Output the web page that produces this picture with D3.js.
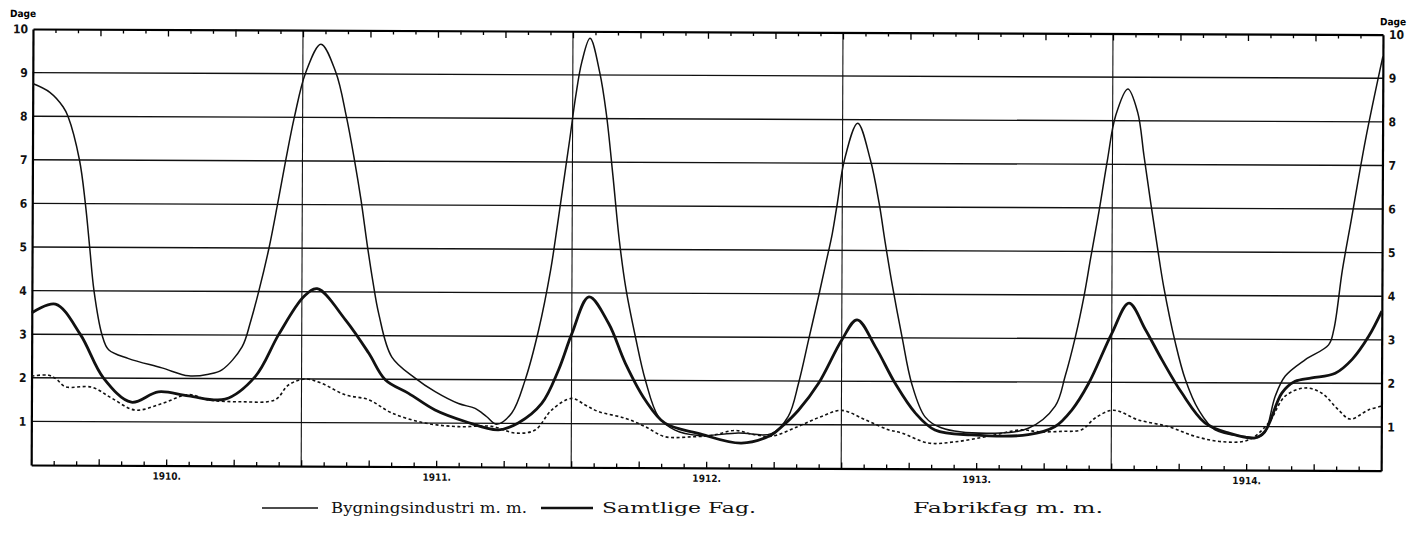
<!DOCTYPE html>
<html>
<head>
<meta charset="utf-8">
<script src="https://cdn.jsdelivr.net/npm/d3@7"></script>
<style>
  body { margin: 0; background: #fff; }
  .axisText text { font-family: "DejaVu Sans Condensed", "DejaVu Sans", sans-serif; font-weight: bold; font-size: 12px; fill: #111; }
  .yearText text { font-family: "DejaVu Sans Condensed", "DejaVu Sans", sans-serif; font-weight: bold; font-size: 10px; fill: #111; }
  .legendText { font-family: "DejaVu Serif", serif; font-size: 15px; fill: #111; }
</style>
</head>
<body>
<div id="chart"></div>
<script>
var svgWidth = 1419;
var svgHeight = 537;

var margin = {
  top: 29,
  right: 36,
  bottom: 72,
  left: 33
};

var width = svgWidth - margin.left - margin.right;
var height = svgHeight - margin.top - margin.bottom;

// Days out of work, month counted from Jan 1910 (0) to end of 1914 (60)
var bygning = [[0, 8.75], [0.76, 8.55], [1.35, 8.22], [1.57, 8.0], [2.09, 7.0], [2.36, 6.0], [2.56, 5.0], [2.76, 4.0],
  [3.12, 3.0], [3.42, 2.65], [4.31, 2.45], [5.79, 2.24], [6.98, 2.06], [7.87, 2.1], [8.46, 2.2], [9.35, 2.73],
  [9.73, 3.32], [10.09, 4.02], [10.53, 5.0], [10.9, 6.0], [11.27, 7.05], [11.64, 8.02], [12.13, 9.03], [12.8, 9.68],
  [13.47, 9.03], [13.94, 8.03], [14.31, 7.03], [14.61, 6.11], [14.89, 5.1], [15.15, 4.25], [15.42, 3.5], [16.01, 2.51],
  [17.05, 2.03], [17.94, 1.72], [18.98, 1.45], [19.72, 1.34], [20.24, 1.15], [20.68, 0.98], [21.35, 1.24], [21.94, 2.0],
  [22.53, 3.15], [23.05, 4.52], [23.33, 5.5], [23.6, 6.5], [23.87, 7.5], [24.13, 8.5], [24.4, 9.3], [24.76, 9.84],
  [25.2, 9.05], [25.5, 8.1], [25.8, 6.7], [26.1, 5.2], [26.4, 4.1], [26.83, 3.0], [27.28, 2.01],
  [27.87, 1.17], [28.61, 0.86], [29.64, 0.74], [31.42, 0.8], [32.89, 0.79], [33.64, 1.19], [34.09, 1.95], [34.53, 2.95],
  [34.98, 3.98], [35.28, 4.7], [35.56, 5.38], [35.78, 6.08], [36.09, 7.08], [36.67, 7.92], [37.24, 7.08], [37.64, 6.08],
  [37.91, 5.2], [38.24, 4.2], [38.68, 3.02], [39.12, 1.95], [39.72, 1.19], [40.44, 0.94], [42.53, 0.82], [44.31, 0.94],
  [45.5, 1.45], [45.94, 2.14], [46.39, 3.05], [46.76, 3.97], [47.05, 4.85], [47.42, 5.95], [47.78, 7.11], [48.13, 8.11],
  [48.67, 8.73], [49.11, 8.2], [49.4, 7.2], [49.7, 6.15], [50.0, 5.15], [50.3, 4.2], [50.83, 2.91], [51.28, 2.07],
  [51.87, 1.38], [52.61, 0.92], [53.94, 0.77], [54.53, 0.75], [54.83, 0.86], [55.28, 1.7], [55.72, 2.16], [56.61, 2.54],
  [57.64, 2.88], [57.87, 3.23], [58.24, 4.6], [58.62, 5.73], [59.24, 7.58], [60, 9.5]];

var samtlige = [[0, 3.49], [1.05, 3.69], [2.16, 3.0], [3.2, 2.0], [4.44, 1.45], [5.64, 1.69], [6.98, 1.6], [8.61, 1.53],
  [9.94, 2.05], [10.98, 3.02], [12.09, 3.89], [12.68, 4.07], [13.94, 3.36], [14.98, 2.6], [15.72, 1.99], [16.76, 1.68],
  [17.94, 1.3], [19.28, 1.04], [20.76, 0.85], [21.64, 1.01], [22.68, 1.46], [23.42, 2.23], [24.01, 3.07], [24.76, 3.91],
  [25.64, 3.3], [26.39, 2.39], [27.28, 1.55], [28.16, 1.02], [29.64, 0.79], [31.56, 0.57], [32.89, 0.76], [33.35, 0.95],
  [34.09, 1.33], [34.98, 1.95], [36.01, 2.95], [36.68, 3.41], [37.5, 2.79], [38.39, 1.95], [39.28, 1.28], [40.16, 0.89],
  [41.79, 0.78], [44.31, 0.79], [45.5, 0.98], [46.24, 1.36], [46.98, 1.97], [48.01, 3.13], [48.76, 3.82], [49.5, 3.21],
  [50.24, 2.52], [51.13, 1.76], [52.16, 1.08], [53.2, 0.85], [54.39, 0.74], [54.83, 0.89], [55.57, 1.77], [56.16, 2.04],
  [56.9, 2.12], [57.94, 2.23], [58.69, 2.55], [59.42, 3.08], [60, 3.66]];

var fabrik = [[0, 2.04], [0.76, 2.06], [1.11, 1.97], [1.5, 1.8], [2.68, 1.79], [3.57, 1.54], [4.61, 1.27], [5.79, 1.42],
  [6.98, 1.63], [7.87, 1.51], [9.35, 1.47], [10.83, 1.52], [11.42, 1.86], [12.16, 2.0], [12.9, 1.9], [13.94, 1.64],
  [14.98, 1.53], [16.01, 1.23], [17.5, 1.0], [18.98, 0.92], [20.46, 0.93], [21.5, 0.78], [22.39, 0.85], [23.12, 1.31],
  [24.01, 1.58], [24.61, 1.43], [25.2, 1.28], [26.39, 1.13], [27.28, 0.94], [28.16, 0.71], [29.35, 0.71], [30.31, 0.75],
  [31.28, 0.86], [32.09, 0.77], [32.89, 0.73], [34.09, 0.96], [35.12, 1.19], [36.01, 1.33], [37.05, 1.12], [38.09, 0.89],
  [38.68, 0.82], [39.87, 0.59], [41.05, 0.62], [42.53, 0.75], [43.99, 0.9], [44.76, 0.86], [45.79, 0.87], [46.68, 0.91],
  [47.28, 1.18], [48.09, 1.36], [49.2, 1.14], [50.53, 0.99], [51.72, 0.77], [52.9, 0.65], [54.09, 0.69], [54.98, 1.08],
  [55.72, 1.7], [56.61, 1.89], [57.35, 1.77], [58.09, 1.39], [58.61, 1.18], [59.42, 1.39], [60, 1.48]];

var dayTicks = [1, 2, 3, 4, 5, 6, 7, 8, 9, 10];
var yearStarts = [12, 24, 36, 48];
var yearMids = [6, 18, 30, 42, 54];
var yearLabels = ["1910.", "1911.", "1912.", "1913.", "1914."];
var legendNames = ["Bygningsindustri m. m.", "Samtlige Fag.", "Fabrikfag m. m."];

var svg = d3.select("#chart")
  .append("svg")
  .attr("width", svgWidth)
  .attr("height", svgHeight);
svg.append("rect")
  .attr("width", "100%")
  .attr("height", "100%")
  .attr("fill", "white");

// the printed sheet sits a little crooked, so tilt the plot with it
var chartGroup = svg.append("g")
  .attr("transform", `translate(${margin.left}, ${margin.top}) rotate(0.24)`);

var xScale = d3.scaleLinear().domain([0, 60]).range([0, width]);
var yScale = d3.scaleLinear().domain([0, 10]).range([height, 0]);

// grid
chartGroup.selectAll(".hgrid")
  .data(dayTicks.filter(d => d < 10))
  .enter()
  .append("line")
  .attr("x1", 0)
  .attr("x2", width)
  .attr("y1", d => yScale(d))
  .attr("y2", d => yScale(d))
  .attr("stroke", "#111")
  .attr("stroke-width", 1.4);

chartGroup.selectAll(".vgrid")
  .data(yearStarts)
  .enter()
  .append("line")
  .attr("x1", d => xScale(d))
  .attr("x2", d => xScale(d))
  .attr("y1", 0)
  .attr("y2", height)
  .attr("stroke", "#111")
  .attr("stroke-width", 1.1);

// month ticks top and bottom
var monthTicks = d3.range(1, 60);
var topAxis = chartGroup.append("g")
  .call(d3.axisTop(xScale).tickValues(monthTicks).tickSize(-4).tickSizeOuter(0).tickFormat(""));
topAxis.selectAll(".tick line").attr("y2", d => d % 3 === 0 ? 7 : 4).attr("stroke-width", 1.3);
topAxis.select(".domain").attr("stroke-width", 2.2);

var bottomAxis = chartGroup.append("g")
  .attr("transform", `translate(0, ${height})`)
  .call(d3.axisBottom(xScale).tickValues(monthTicks).tickSize(-4).tickSizeOuter(0).tickFormat(""));
bottomAxis.selectAll(".tick line").attr("y2", d => d % 3 === 0 ? -6 : -4).attr("stroke-width", 1.3);
bottomAxis.select(".domain").attr("stroke-width", 2.2);

chartGroup.append("g")
  .attr("class", "yearText")
  .attr("transform", `translate(0, ${height})`)
  .call(d3.axisBottom(xScale).tickValues(yearMids).tickSize(0).tickPadding(7).tickFormat((d, i) => yearLabels[i]))
  .call(g => g.select(".domain").remove());

// day axes
var leftAxis = chartGroup.append("g")
  .attr("class", "axisText")
  .call(d3.axisLeft(yScale).tickValues(dayTicks).tickSize(0).tickPadding(5));
leftAxis.select(".domain").attr("stroke-width", 2.2);

var rightAxis = chartGroup.append("g")
  .attr("class", "axisText")
  .attr("transform", `translate(${width}, 0)`)
  .call(d3.axisRight(yScale).tickValues(dayTicks).tickSize(0).tickPadding(6));
rightAxis.select(".domain").attr("stroke-width", 2.2);

chartGroup.append("text")
  .attr("x", -10)
  .attr("y", -12)
  .attr("text-anchor", "middle")
  .style("font-family", "'DejaVu Sans Condensed', sans-serif")
  .style("font-weight", "bold")
  .style("font-size", "10px")
  .text("Dage");

chartGroup.append("text")
  .attr("x", width + 10)
  .attr("y", -9.5)
  .attr("text-anchor", "middle")
  .style("font-family", "'DejaVu Sans Condensed', sans-serif")
  .style("font-weight", "bold")
  .style("font-size", "10px")
  .text("Dage");

// curves
var line = d3.line()
  .x(d => xScale(d[0]))
  .y(d => yScale(d[1]))
  .curve(d3.curveCatmullRom.alpha(0.5));

chartGroup.append("path")
  .datum(fabrik)
  .attr("d", line)
  .attr("fill", "none")
  .attr("stroke", "#111")
  .attr("stroke-width", 1.6)
  .attr("stroke-dasharray", "3,2.5");

chartGroup.append("path")
  .datum(bygning)
  .attr("d", line)
  .attr("fill", "none")
  .attr("stroke", "#111")
  .attr("stroke-width", 1.5);

chartGroup.append("path")
  .datum(samtlige)
  .attr("d", line)
  .attr("fill", "none")
  .attr("stroke", "#111")
  .attr("stroke-width", 2.8);

// legend
var legendItems = [
  {name: legendNames[0], x0: 262, x1: 318, w: 1.3, tx: 331, len: 196},
  {name: legendNames[1], x0: 541, x1: 593, w: 2.6, tx: 602, len: 154},
  {name: legendNames[2], x0: null, x1: null, w: 0, tx: 913, len: 190}
];

legendItems.forEach(function(item) {
  if (item.x0 !== null) {
    svg.append("line")
      .attr("x1", item.x0)
      .attr("x2", item.x1)
      .attr("y1", 508)
      .attr("y2", 508)
      .attr("stroke", "#111")
      .attr("stroke-width", item.w);
  }
  svg.append("text")
    .attr("class", "legendText")
    .attr("x", item.tx)
    .attr("y", 513)
    .attr("textLength", item.len)
    .attr("lengthAdjust", "spacingAndGlyphs")
    .text(item.name);
});
</script>
</body>
</html>
